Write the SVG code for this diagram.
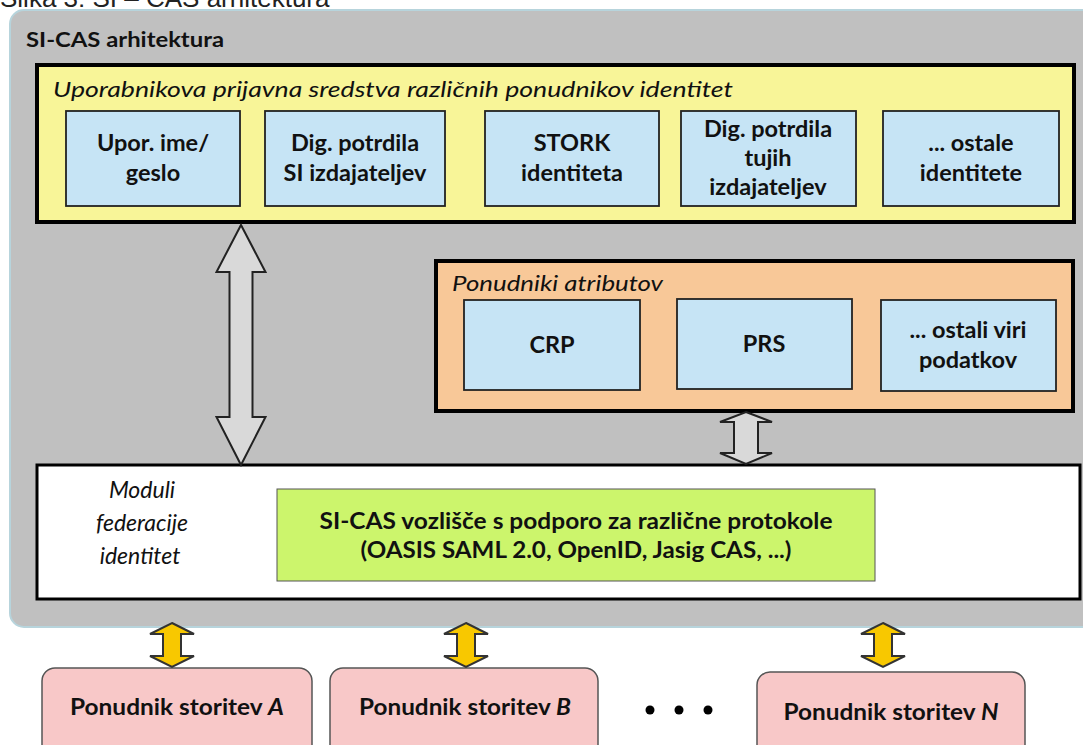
<svg xmlns="http://www.w3.org/2000/svg" width="1083" height="745" viewBox="0 0 1083 745">
<style>
.cap{font-family:"Liberation Sans",Arial,sans-serif;font-size:26px;fill:#222}
.b{font-family:Lato,"Liberation Sans",sans-serif;font-weight:bold;font-size:23.5px;fill:#111;text-anchor:middle}
.g{font-family:Lato,"Liberation Sans",sans-serif;font-weight:bold;font-size:22px;fill:#111;text-anchor:middle}
.hd{font-family:Lato,"Liberation Sans",sans-serif;font-weight:bold;font-size:21px;fill:#111}
.it{font-family:Lato,"Liberation Sans",sans-serif;font-style:italic;font-size:21px;fill:#111}
.itc{font-family:Lato,"Liberation Sans",sans-serif;font-style:italic;font-size:23px;fill:#111;text-anchor:middle}
.blue{fill:#c6e4f5;stroke:#222;stroke-width:1.8}
.pink{fill:#f8c8c8;stroke:#555;stroke-width:1.5}
.garr{fill:#d9d9d9;stroke:#222;stroke-width:2;stroke-linejoin:miter}
.yarr{fill:#f8c800;stroke:#333;stroke-width:2}
</style>
<rect width="1083" height="745" fill="#fff"/>
<text class="cap" x="0" y="7">Slika 3: SI – CAS arhitektura</text>
<g id="panel">
<rect x="10" y="10" width="1090" height="617" rx="14" fill="#c0c0c0" stroke="#b7d4dc" stroke-width="2"/>
<text class="hd" x="26" y="47" textLength="198" lengthAdjust="spacingAndGlyphs">SI-CAS arhitektura</text>
</g>
<g id="identitete">
<rect x="37" y="65" width="1037" height="157" fill="#f8f598" stroke="#000" stroke-width="4"/>
<text class="it" x="53" y="97" textLength="680" lengthAdjust="spacingAndGlyphs">Uporabnikova prijavna sredstva različnih ponudnikov identitet</text>
</g>
<g id="upor-ime">
<rect class="blue" x="66" y="111" width="174" height="95"/>
<text class="b" x="153" y="151">Upor. ime/</text>
<text class="b" x="153" y="181">geslo</text>
</g>
<g id="dig-si">
<rect class="blue" x="265" y="111" width="180" height="95"/>
<text class="b" x="355" y="151">Dig. potrdila</text>
<text class="b" x="355" y="181">SI izdajateljev</text>
</g>
<g id="stork">
<rect class="blue" x="485" y="111" width="174" height="95"/>
<text class="b" x="572" y="151">STORK</text>
<text class="b" x="572" y="181">identiteta</text>
</g>
<g id="dig-tuji">
<rect class="blue" x="681" y="111" width="175" height="95"/>
<text class="b" x="768" y="137">Dig. potrdila</text>
<text class="b" x="768" y="166">tujih</text>
<text class="b" x="768" y="195">izdajateljev</text>
</g>
<g id="ostale-id">
<rect class="blue" x="883" y="111" width="176" height="95"/>
<text class="b" x="971" y="151">... ostale</text>
<text class="b" x="971" y="181">identitete</text>
</g>
<g id="atributi">
<rect x="436" y="261" width="637" height="150" fill="#f8c898" stroke="#000" stroke-width="4"/>
<text class="it" x="452" y="291" textLength="211" lengthAdjust="spacingAndGlyphs">Ponudniki atributov</text>
</g>
<g id="crp">
<rect class="blue" x="464" y="300" width="176" height="90"/>
<text class="b" x="552" y="353">CRP</text>
</g>
<g id="prs">
<rect class="blue" x="677" y="299" width="175" height="90"/>
<text class="b" x="764" y="352">PRS</text>
</g>
<g id="ostali-viri">
<rect class="blue" x="881" y="300" width="175" height="91"/>
<text class="b" x="968" y="338">... ostali viri</text>
<text class="b" x="968" y="368">podatkov</text>
</g>
<g id="moduli">
<rect x="37" y="465" width="1043" height="134" fill="#fff" stroke="#000" stroke-width="3"/>
<text class="itc" x="142" y="498">Moduli</text>
<text class="itc" x="142" y="531">federacije</text>
<text class="itc" x="140" y="564">identitet</text>
</g>
<g id="vozlisce">
<rect x="277" y="489" width="598" height="92" fill="#ccf56c" stroke="#555" stroke-width="1"/>
<text class="g" x="576" y="529" textLength="513" lengthAdjust="spacingAndGlyphs">SI-CAS vozlišče s podporo za različne protokole</text>
<text class="g" x="576" y="558" textLength="431" lengthAdjust="spacingAndGlyphs">(OASIS SAML 2.0, OpenID, Jasig CAS, ...)</text>
</g>
<g id="ponudnik-a">
<rect class="pink" x="42" y="668" width="270" height="95" rx="13"/>
<text class="g" x="177" y="715" textLength="214" lengthAdjust="spacingAndGlyphs">Ponudnik storitev <tspan font-style="italic">A</tspan></text>
</g>
<g id="ponudnik-b">
<rect class="pink" x="330" y="668" width="268" height="95" rx="13"/>
<text class="g" x="465" y="715" textLength="212" lengthAdjust="spacingAndGlyphs">Ponudnik storitev <tspan font-style="italic">B</tspan></text>
</g>
<g id="dots">
<circle cx="650" cy="710" r="4.5" fill="#000"/>
<circle cx="679" cy="710" r="4.5" fill="#000"/>
<circle cx="708" cy="710" r="4.5" fill="#000"/>
</g>
<g id="ponudnik-n">
<rect class="pink" x="757" y="672" width="268" height="95" rx="13"/>
<text class="g" x="891" y="720" textLength="215" lengthAdjust="spacingAndGlyphs">Ponudnik storitev <tspan font-style="italic">N</tspan></text>
</g>
<g id="connectors">
<path class="garr" d="M241,225 L265.5,272 L252.5,272 L252.5,417 L265.5,417 L241,465 L216.5,417 L229.5,417 L229.5,272 L216.5,272 Z"/>
<path class="garr" d="M746,412 L772,422 L758,422 L758,453 L772,453 L746,464 L720,453 L734,453 L734,422 L720,422 Z"/>
<path class="yarr" d="M172,623 L194,634 L181,634 L181,656 L194,656 L172,667 L150,656 L163,656 L163,634 L150,634 Z"/>
<path class="yarr" d="M466,623 L488,634 L475,634 L475,656 L488,656 L466,667 L444,656 L457,656 L457,634 L444,634 Z"/>
<path class="yarr" d="M883,623 L905,634 L892,634 L892,656 L905,656 L883,667 L861,656 L874,656 L874,634 L861,634 Z"/>
</g>
</svg>
